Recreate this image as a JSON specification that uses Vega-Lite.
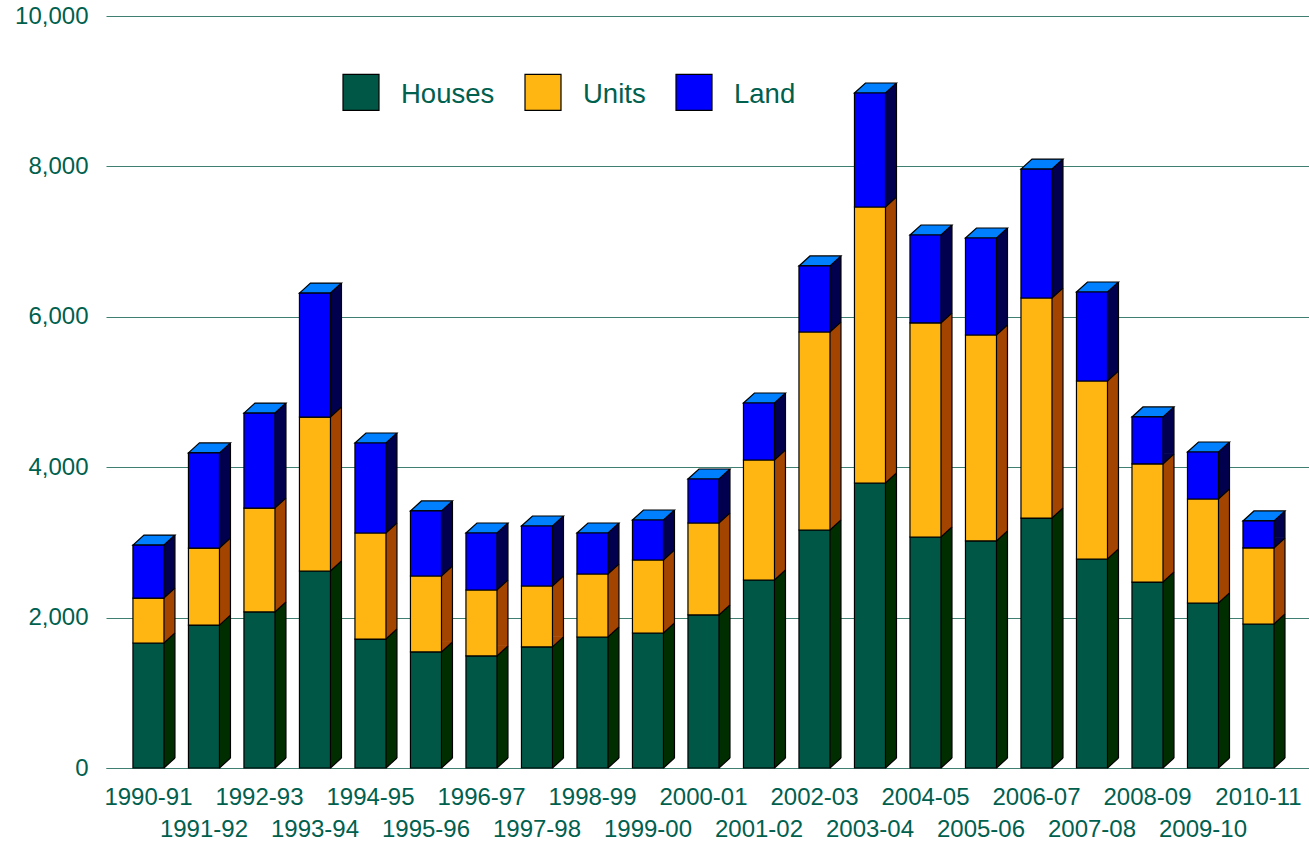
{"$schema":"https://vega.github.io/schema/vega-lite/v6.json","width":1203,"height":752,"autosize":"none","padding":{"left":106,"top":16,"right":0,"bottom":76},"background":"white","config":{"view":{"stroke":null},"font":"Liberation Sans"},
"datasets":{"wide":[
{"year":"1990-91","Houses":1662,"Units":598,"Land":705},
{"year":"1991-92","Houses":1900,"Units":1025,"Land":1265},
{"year":"1992-93","Houses":2075,"Units":1382,"Land":1263},
{"year":"1993-94","Houses":2620,"Units":2047,"Land":1649},
{"year":"1994-95","Houses":1715,"Units":1410,"Land":1197},
{"year":"1995-96","Houses":1543,"Units":1010,"Land":865},
{"year":"1996-97","Houses":1490,"Units":877,"Land":758},
{"year":"1997-98","Houses":1610,"Units":810,"Land":798},
{"year":"1998-99","Houses":1742,"Units":838,"Land":545},
{"year":"1999-00","Houses":1795,"Units":971,"Land":532},
{"year":"2000-01","Houses":2035,"Units":1223,"Land":585},
{"year":"2001-02","Houses":2500,"Units":1596,"Land":758},
{"year":"2002-03","Houses":3165,"Units":2633,"Land":878},
{"year":"2003-04","Houses":3790,"Units":3670,"Land":1516},
{"year":"2004-05","Houses":3072,"Units":2846,"Land":1170},
{"year":"2005-06","Houses":3019,"Units":2739,"Land":1290},
{"year":"2006-07","Houses":3324,"Units":2926,"Land":1715},
{"year":"2007-08","Houses":2779,"Units":2367,"Land":1184},
{"year":"2008-09","Houses":2473,"Units":1570,"Land":625},
{"year":"2009-10","Houses":2194,"Units":1383,"Land":625},
{"year":"2010-11","Houses":1915,"Units":1011,"Land":359}
]},
"data":{"name":"wide"},
"transform":[
{"fold":["Houses","Units","Land"],"as":["series","value"]},
{"lookup":"series","from":{"data":{"values":[{"series":"Houses","rank":0},{"series":"Units","rank":1},{"series":"Land","rank":2}]},"key":"series","fields":["rank"]}},
{"stack":"value","groupby":["year"],"sort":[{"field":"rank","order":"ascending"}],"as":["y0","y1"]}
],
"encoding":{
"x":{"field":"year","type":"nominal","sort":null,"title":null,
"scale":{"paddingInner":0.441,"paddingOuter":0.558,"align":0.435},
"axis":{"labelAngle":0,"labelColor":"#00604E","labelFontSize":24,"labelFont":"Liberation Sans","labelOverlap":false,"labelLineHeight":32,"labelPadding":17,"labelBaseline":"top","ticks":false,"domainColor":"#3F7F72","domainWidth":1,"grid":false,"labelExpr":"parseInt(slice(datum.value,0,4))%2==0?datum.value:[' ',datum.value]"}},
"y":{"field":"y1","type":"quantitative","title":null,"scale":{"domain":[0,10000]},
"axis":{"values":[0,2000,4000,6000,8000,10000],"format":",.0f","labelColor":"#00604E","labelFontSize":24,"labelFont":"Liberation Sans","labelPadding":18,"ticks":false,"domain":false,"grid":true,"gridColor":"#3F7F72","gridWidth":1}}
},
"layer":[
{"mark":{"type":"rule","xOffset":21,"yOffset":-10,"y2Offset":-10,"strokeWidth":11},
"encoding":{"y2":{"field":"y0"},"stroke":{"field":"series","type":"nominal","legend":null,"scale":{"domain":["Houses","Units","Land"],"range":["#002E00","#A34400","#00004F"]}}}},
{"mark":{"type":"point","filled":true,"size":4,"opacity":1,"strokeWidth":0,"shape":"M15.5,-10 L15.5,0 L26.5,-10 Z"},
"encoding":{"y":{"field":"y0","type":"quantitative"},"fill":{"field":"series","type":"nominal","legend":null,"scale":{"domain":["Houses","Units","Land"],"range":["#002E00","#A34400","#00004F"]}}}},
{"mark":{"type":"point","filled":false,"size":4,"opacity":1,"stroke":"#000000","strokeWidth":1.2,"shape":"M15.5,0 L26.5,-10"},
"encoding":{"y":{"field":"y0","type":"quantitative"}}},
{"transform":[{"filter":"datum.series=='Land'"}],"mark":{"type":"point","filled":true,"size":4,"opacity":1,"fill":"#0080FF","stroke":"#000000","strokeWidth":1.2,"shape":"M-15.5,0 L15.5,0 L26.5,-10 L-4.5,-10 Z"}},
{"transform":[{"filter":"datum.series=='Land'"}],"mark":{"type":"rule","xOffset":26.5,"yOffset":-10,"y2Offset":-10,"stroke":"#000000","strokeWidth":1.2},
"encoding":{"y2":{"datum":0}}},
{"mark":{"type":"bar","stroke":"#000000","strokeWidth":1.2},
"encoding":{"y2":{"field":"y0"},"color":{"field":"series","type":"nominal","scale":{"domain":["Houses","Units","Land"],"range":["#005746","#FFB612","#0000FF"]},
"legend":{"title":null,"orient":"none","legendX":236,"legendY":60,"direction":"horizontal","columns":3,"symbolType":"M-1,-1.167 H1 V0.833 H-1 Z","symbolSize":1296,"symbolStrokeColor":"#000000","symbolStrokeWidth":1.2,"symbolOpacity":1,"labelFontSize":27.5,"labelFont":"Liberation Sans","labelColor":"#00604E","labelOffset":21,"columnPadding":27,"labelLimit":200}}}}
],
"resolve":{"scale":{"fill":"independent","color":"independent","stroke":"independent"}}}
